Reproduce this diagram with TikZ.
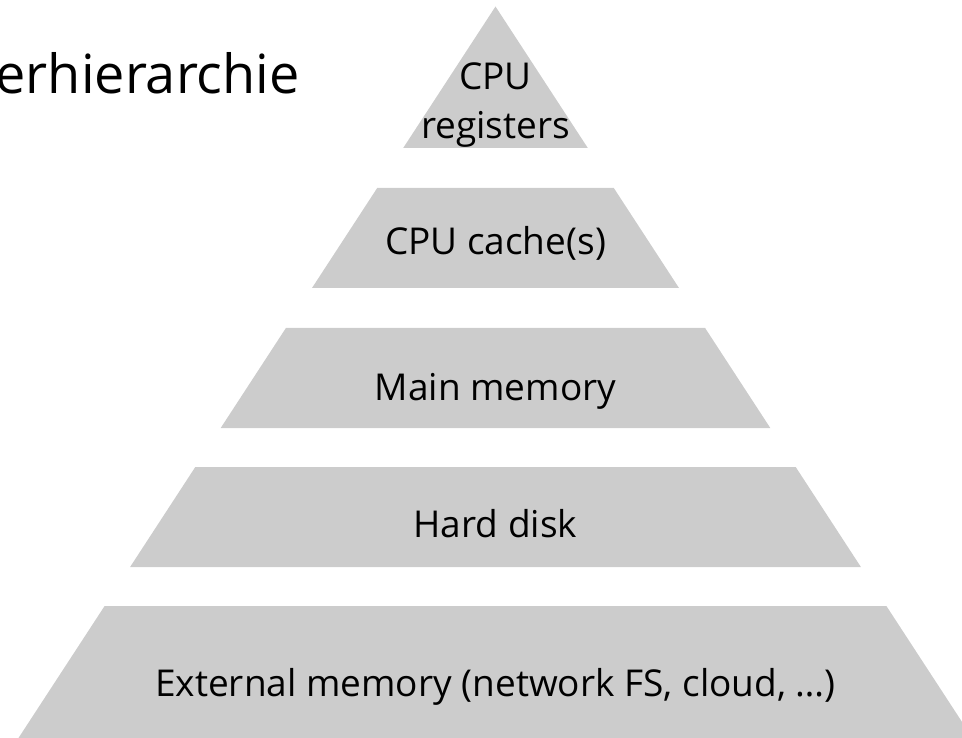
\documentclass[tikz,border=0pt]{standalone}
\usepackage{fontspec}
\setmainfont{Open Sans}
\definecolor{bandgray}{HTML}{CCCCCC}
\begin{document}
\begin{tikzpicture}[x=1pt,y=-1pt,
  layer/.style={fill=bandgray, draw=none},
  lbl/.style={anchor=base, inner sep=0pt, font=\fontsize{37}{44}\selectfont, text=black},
  ttl/.style={anchor=base east, inner sep=0pt, font=\fontsize{54}{64}\selectfont, text=black}]
\useasboundingbox (0,0) rectangle (962,738);
% layers of the pyramid
\fill[layer] (495.5,6.5) -- (587.8,148) -- (403.2,148) -- cycle;
\fill[layer] (377.2,188) -- (613.8,188) -- (679,288) -- (312,288) -- cycle;
\fill[layer] (285.9,328) -- (705.1,328) -- (770.3,428) -- (220.7,428) -- cycle;
\fill[layer] (195.3,467) -- (795.7,467) -- (860.9,567) -- (130.1,567) -- cycle;
\fill[layer] (104.6,606) -- (886.4,606) -- (972.5,738) -- (18.5,738) -- cycle;
% labels
\node[ttl] (title) at (300,94) {erhierarchie};
\node[lbl] (reg1) at (495.5,90) {CPU};
\node[lbl] (reg2) at (495.5,139) {registers};
\node[lbl] (cache) at (495.5,255) {CPU cache(s)};
\node[lbl] (main) at (495.5,400) {Main memory};
\node[lbl] (disk) at (495.5,537) {Hard disk};
\node[lbl] (ext) at (495.5,696) {External memory (network FS, cloud, …)};
\end{tikzpicture}
\end{document}
